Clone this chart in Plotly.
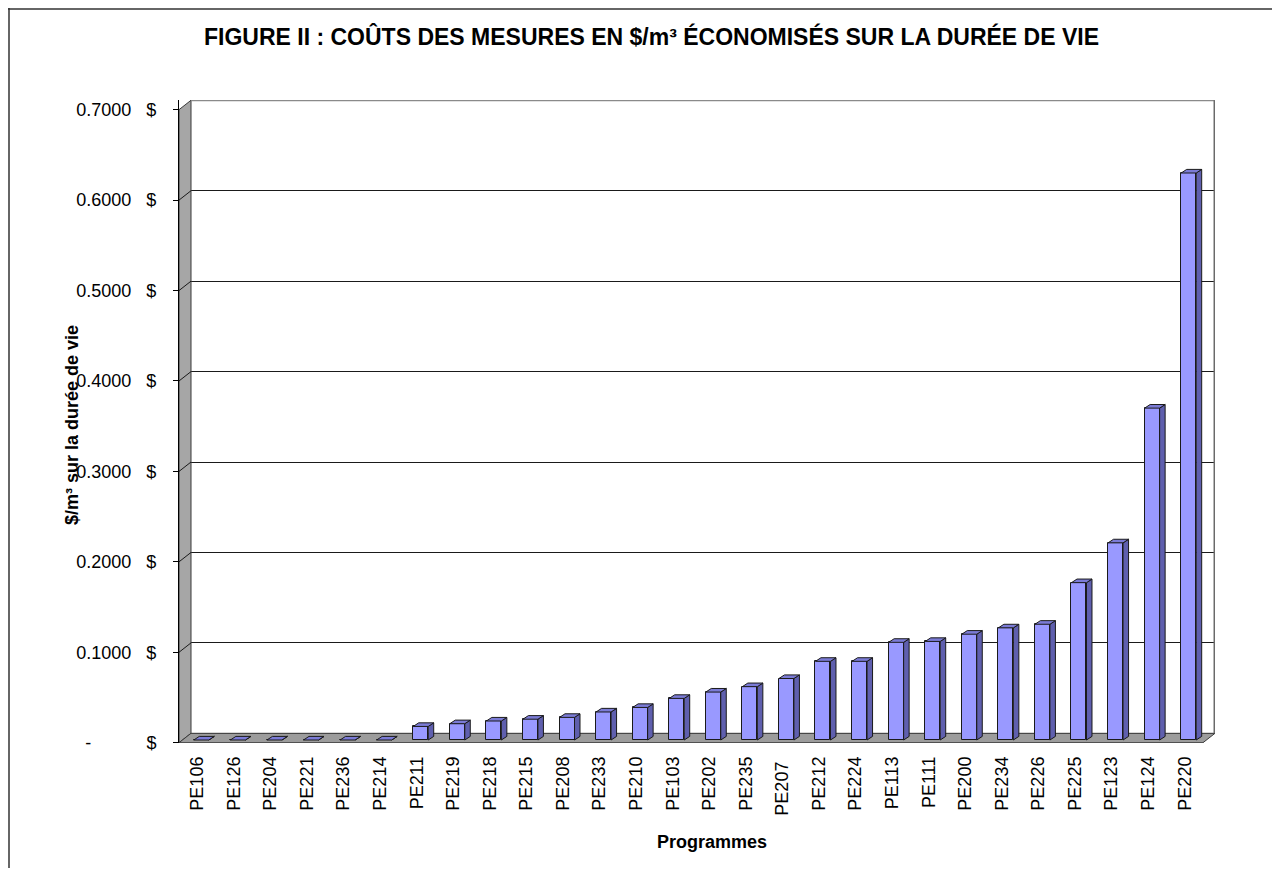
import plotly.graph_objects as go

# ---------------- data ----------------
programmes = ["PE106", "PE126", "PE204", "PE221", "PE236", "PE214", "PE211", "PE219",
              "PE218", "PE215", "PE208", "PE233", "PE210", "PE103", "PE202", "PE235",
              "PE207", "PE212", "PE224", "PE113", "PE111", "PE200", "PE234", "PE226",
              "PE225", "PE123", "PE124", "PE220"]
couts = [0.0, 0.0, 0.0, 0.0, 0.0, 0.0, 0.015, 0.018,
         0.021, 0.023, 0.025, 0.031, 0.036, 0.046, 0.053, 0.059,
         0.068, 0.087, 0.087, 0.108, 0.109, 0.117, 0.124, 0.128,
         0.174, 0.218, 0.367, 0.627]
y_tick_values = [0.0, 0.1, 0.2, 0.3, 0.4, 0.5, 0.6, 0.7]
y_tick_labels = ["-", "0.1000", "0.2000", "0.3000", "0.4000", "0.5000", "0.6000", "0.7000"]

title_text = "FIGURE II : COÛTS DES MESURES EN $/m³ ÉCONOMISÉS SUR LA DURÉE DE VIE"
y_title = "$/m³ sur la durée de vie"
x_title = "Programmes"

# ---------------- geometry (pixels) ----------------
W, H = 1264, 860
ML, MR, MT, MB = 171, 57, 92, 125
PW, PH = W - ML - MR, H - MT - MB
PX_CAT = 36.571          # px per category on the front axis
PX_VAL = 904.3           # px per 1.0 $ on the value axis
FRONT_ZERO_FIG = 734.7   # figure-y of the front value-axis zero
X0 = -0.5
X1 = X0 + PW / PX_CAT
Y2_0 = -((H - MB) - FRONT_ZERO_FIG) / PX_VAL
Y2_1 = Y2_0 + PH / PX_VAL
DX, DY = 12 / PX_CAT, 9.4 / PX_VAL          # wall depth
BAR_OFF, BAR_W = 4 / PX_CAT, 15 / PX_CAT    # bar placement
BAR_BASE = 2.7 / PX_VAL
SDX, SDY = 5.5 / PX_CAT, 3.6 / PX_VAL       # bar depth

FONT = "Liberation Sans, Arial, sans-serif"
NB = "\u00a0"

def px_to_paper_x(px):
    return (px - ML) / PW

def px_to_paper_y(py):
    return ((H - MB) - py) / PH

def fy(v):
    """front-axis value -> back-axis (y) value"""
    return v - DY

# ---------------- traces ----------------
xs = [i + BAR_OFF for i in range(len(programmes))]

fig = go.Figure()
# invisible trace so that the back-wall (x, y) subplot and its gridlines are drawn
fig.add_trace(go.Scatter(x=[X0, X1], y=[0, 0], xaxis="x", yaxis="y", mode="lines",
                         line=dict(width=0, color="rgba(0,0,0,0)"), hoverinfo="skip",
                         showlegend=False))
fig.add_trace(go.Bar(
    x=xs, y=couts, base=[BAR_BASE] * len(couts), width=BAR_W,
    xaxis="x", yaxis="y2",
    marker=dict(color="#9999FF", line=dict(color="#1a1a1a", width=1)),
    hovertext=programmes, showlegend=False,
))

side_x, side_y, top_x, top_y = [], [], [], []
for x, v in zip(xs, couts):
    xr = x + BAR_W / 2
    xl = x - BAR_W / 2
    b = BAR_BASE
    t = BAR_BASE + v
    side_x += [xr, xr + SDX, xr + SDX, xr, xr, None]
    side_y += [b, b + SDY, t + SDY, t, b, None]
    top_x += [xl, xl + SDX, xr + SDX, xr, xl, None]
    top_y += [t, t + SDY, t + SDY, t, t, None]

fig.add_trace(go.Scatter(x=side_x, y=side_y, xaxis="x", yaxis="y2", mode="lines",
                         fill="toself", fillcolor="#5F5FAE",
                         line=dict(color="#1a1a1a", width=1), hoverinfo="skip",
                         showlegend=False))
fig.add_trace(go.Scatter(x=top_x, y=top_y, xaxis="x", yaxis="y2", mode="lines",
                         fill="toself", fillcolor="#7B7BD6",
                         line=dict(color="#1a1a1a", width=1), hoverinfo="skip",
                         showlegend=False))

# ---------------- walls ----------------
shapes = []
top = y_tick_values[-1]
# left wall
shapes.append(dict(type="path", xref="x", yref="y", layer="between",
                   path=f"M {X0},{fy(0)} L {X0},{fy(top)} L {X0+DX},{fy(top+DY)} "
                        f"L {X0+DX},{fy(DY)} Z",
                   fillcolor="#A6A6A6", line=dict(color="#3a3a3a", width=1)))
# floor
xe = len(programmes) - 0.5
shapes.append(dict(type="path", xref="x", yref="y", layer="between",
                   path=f"M {X0},{fy(0)} L {xe},{fy(0)} L {xe+DX},{fy(DY)} L {X0+DX},{fy(DY)} Z",
                   fillcolor="#9C9C9C", line=dict(color="#3a3a3a", width=1)))
# gridline continuation on the left wall
for v in y_tick_values[1:-1]:
    shapes.append(dict(type="line", xref="x", yref="y", layer="between",
                       x0=X0, y0=fy(v), x1=X0 + DX, y1=fy(v + DY),
                       line=dict(color="#1a1a1a", width=1)))
# back wall top and right edges
shapes.append(dict(type="line", xref="x", yref="y", layer="between",
                   x0=X0 + DX, y0=fy(top + DY), x1=X1, y1=fy(top + DY),
                   line=dict(color="#8a8a8a", width=2)))
shapes.append(dict(type="line", xref="x", yref="y", layer="between",
                   x0=X1 - 0.02, y0=fy(DY), x1=X1 - 0.02, y1=fy(top + DY),
                   line=dict(color="#6a6a6a", width=1.5)))
# chart-area border (top and left)
shapes.append(dict(type="line", xref="paper", yref="paper",
                   x0=px_to_paper_x(0), y0=px_to_paper_y(1), x1=px_to_paper_x(W), y1=px_to_paper_y(1),
                   line=dict(color="#333333", width=1.5)))
shapes.append(dict(type="line", xref="paper", yref="paper",
                   x0=px_to_paper_x(1), y0=px_to_paper_y(0), x1=px_to_paper_x(1), y1=px_to_paper_y(H),
                   line=dict(color="#333333", width=1.5)))

# ---------------- layout ----------------
# accounting-style labels: the dash is padded by four invisible digits so it
# sits under the decimal point, and the "$" forms its own column
tick_text = []
for lab in y_tick_labels:
    if lab == "-":
        tick_text.append("-<span style='color:rgba(0,0,0,0)'>0000</span>" + NB * 3 + "$")
    else:
        tick_text.append(lab + NB * 3 + "$")

x_tick_text = [p + NB if p == "PE207" else p for p in programmes]

fig.update_layout(
    width=W, height=H,
    margin=dict(l=ML, r=MR, t=MT, b=MB, pad=0),
    paper_bgcolor="white", plot_bgcolor="white",
    font=dict(family=FONT, size=18, color="black"),
    showlegend=False,
    bargap=0,
    xaxis=dict(domain=[0, 1], range=[X0, X1], anchor="y2",
               tickmode="array", tickvals=list(range(len(programmes))), ticktext=x_tick_text,
               tickangle=-90, ticks="", showgrid=False, zeroline=False,
               showline=False, tickfont=dict(size=18), ticklabelstandoff=9),
    xaxis2=dict(overlaying="x", range=[X0, X1], anchor="y2",
                tickmode="array", tickvals=[i - 0.5 for i in range(len(programmes) + 1)],
                ticks="outside", ticklen=5, tickcolor="black", tickwidth=1,
                showticklabels=False, showgrid=False, zeroline=False, showline=False),
    yaxis=dict(domain=[0, 1], range=[Y2_0 - DY, Y2_1 - DY], anchor="x",
               tickmode="array", tickvals=y_tick_values, showticklabels=False,
               showgrid=True, gridcolor="#1a1a1a", gridwidth=1, zeroline=False,
               showline=False, ticks=""),
    yaxis2=dict(overlaying="y", range=[Y2_0, Y2_1], anchor="x",
                tickmode="array", tickvals=y_tick_values, ticktext=tick_text,
                ticks="outside", ticklen=5, tickcolor="black", tickwidth=1,
                showgrid=False, zeroline=False, showline=True, linecolor="black",
                linewidth=1, tickfont=dict(size=18), ticklabelstandoff=13),
    shapes=shapes,
    annotations=[
        dict(text=f"<b>{title_text}</b>", xref="paper", yref="paper",
             x=px_to_paper_x(643), y=px_to_paper_y(29), xanchor="center", yanchor="middle",
             showarrow=False, font=dict(size=23, family=FONT)),
        dict(text=f"<b>{y_title}</b>", xref="paper", yref="paper", textangle=-90,
             x=px_to_paper_x(64), y=px_to_paper_y(417), xanchor="center", yanchor="middle",
             showarrow=False, font=dict(size=18, family=FONT)),
        dict(text=f"<b>{x_title}</b>", xref="paper", yref="paper",
             x=px_to_paper_x(703.5), y=px_to_paper_y(834), xanchor="center", yanchor="middle",
             showarrow=False, font=dict(size=18, family=FONT)),
    ],
)

fig.write_html("out.html")
